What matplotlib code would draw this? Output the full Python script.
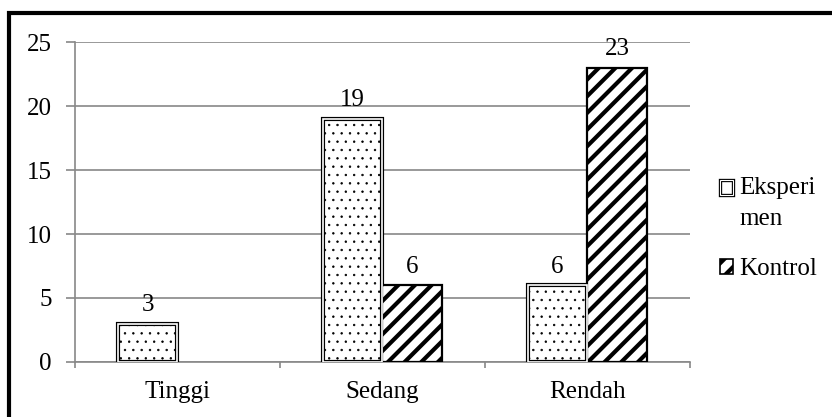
import numpy as np
import matplotlib
matplotlib.use('Agg')
import matplotlib.pyplot as plt
from matplotlib.patches import Rectangle, Patch
from matplotlib.legend_handler import HandlerTuple

categories = ['Tinggi', 'Sedang', 'Rendah']
eksperimen = [3, 19, 6]
kontrol = [0, 6, 23]
yticks = [0, 5, 10, 15, 20, 25]

plt.rcParams['font.family'] = ['Liberation Serif', 'DejaVu Serif']
fs = 18

fig = plt.figure(figsize=(8.32, 4.17), dpi=100)
ax = fig.add_axes([0.090, 0.132, 0.739, 0.767])

x = np.arange(len(categories))
w = 0.29

# Eksperimen: dotted, double border
plt.rcParams['hatch.linewidth'] = 0.5
b1 = ax.bar(x - w/2, eksperimen, w, color='white', edgecolor='black',
            hatch='..', linewidth=3.0, zorder=3)
ax.bar(x - w/2, eksperimen, w, color='none', edgecolor='white',
       linewidth=1.2, zorder=4)

# Kontrol: thick diagonal stripes
plt.rcParams['hatch.linewidth'] = 3.0
b2 = ax.bar(x + w/2, kontrol, w, color='white', edgecolor='black',
            hatch='//', linewidth=1.6, zorder=3)
for p, v in zip(b2.patches, kontrol):
    if v == 0:
        p.set_visible(False)

for i in range(len(categories)):
    ax.text(x[i] - w/2, eksperimen[i] + 0.6, str(eksperimen[i]),
            ha='center', va='bottom', fontsize=fs)
    if kontrol[i] > 0:
        ax.text(x[i] + w/2, kontrol[i] + 0.6, str(kontrol[i]),
                ha='center', va='bottom', fontsize=fs)

ax.set_xlim(-0.5, 2.5)
ax.set_ylim(0, 25)
ax.set_yticks(yticks)
ax.set_yticklabels([str(v) for v in yticks], fontsize=fs)
ax.set_xticks(x)
ax.set_xticklabels(categories, fontsize=fs)
ax.set_xticks([-0.5, 0.5, 1.5, 2.5], minor=True)
ax.tick_params(axis='x', which='major', length=0, pad=14)
ax.tick_params(axis='x', which='minor', length=4.5, color='#888888', width=1.2)
ax.tick_params(axis='y', length=6.5, color='#888888', width=1.2, pad=10)
ax.grid(axis='y', color='#888888', linewidth=1.2, zorder=0)
ax.set_axisbelow(True)
for s in ['top', 'right']:
    ax.spines[s].set_visible(False)
for s in ['left', 'bottom']:
    ax.spines[s].set_color('#888888')
    ax.spines[s].set_linewidth(1.2)


# icon of the two-line label sits next to the first line
class UpHandler(HandlerTuple):
    def create_artists(self, legend, orig_handle, xdescent, ydescent,
                       width, height, fontsize, trans):
        return super().create_artists(legend, orig_handle, xdescent,
                                      ydescent - 0.62*fontsize, width, height,
                                      fontsize, trans)


h1 = (Patch(facecolor='white', edgecolor='black', linewidth=2.4),
      Patch(facecolor='none', edgecolor='white', linewidth=0.8))
h2 = Patch(facecolor='white', edgecolor='black', hatch='//', linewidth=1.2)
leg = fig.legend(handles=[h1, h2], labels=['Eksperi\nmen', 'Kontrol'],
                 handler_map={tuple: UpHandler(ndivide=1)},
                 loc='center left', bbox_to_anchor=(0.838, 0.452),
                 frameon=False, fontsize=fs,
                 handlelength=0.55, handleheight=0.55, handletextpad=0.25,
                 labelspacing=1.12)
leg.get_texts()[0].set_linespacing(1.55)

# figure border (left/top visible)
fig.patches.append(Rectangle((0.011, -0.05), 1.1, 1.018,
                             transform=fig.transFigure, fill=False,
                             edgecolor='black', linewidth=3))

fig.savefig('out.png', dpi=100)
